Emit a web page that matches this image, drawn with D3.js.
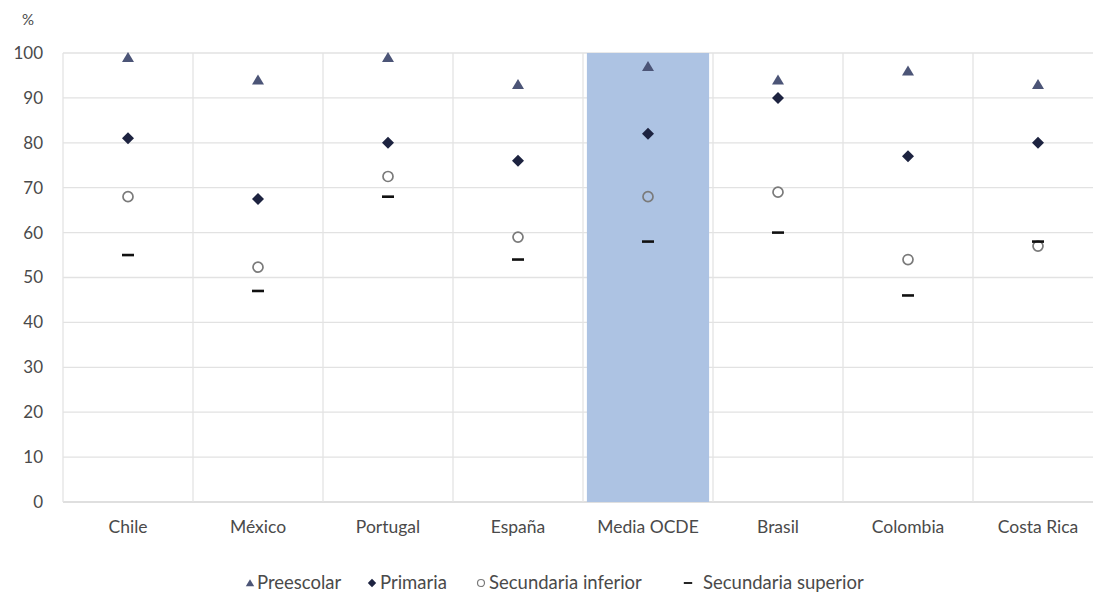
<!DOCTYPE html>
<html>
<head>
<meta charset="utf-8">
<script src="https://cdn.jsdelivr.net/npm/d3@7"></script>
<style>
  html, body { margin: 0; padding: 0; background: #fff; }
  svg { display: block; }
  text { font-family: Lato, "Open Sans", sans-serif; fill: #4a4a4a; }
</style>
</head>
<body>
<svg id="chart" width="1093" height="594"></svg>
<script>
// Categories and series (% of students)
const categories = ["Chile", "México", "Portugal", "España", "Media OCDE", "Brasil", "Colombia", "Costa Rica"];
const preescolar = [99, 94, 99, 93, 97, 94, 96, 93];
const primaria = [81, 67.5, 80, 76, 82, 90, 77, 80];
const secInferior = [68, 52.3, 72.5, 59, 68, 69, 54, 57];
const secSuperior = [55, 47, 68, 54, 58, 60, 46, 58];
const yTicks = [0, 10, 20, 30, 40, 50, 60, 70, 80, 90, 100];
const highlighted = ["Media OCDE"];
const highlightValue = [100];
const legendLabels = ["Preescolar", "Primaria", "Secundaria inferior", "Secundaria superior"];

const svg = d3.select("#chart");
const FONT = "Lato, 'Open Sans', sans-serif";

const x = d3.scaleBand().domain(categories).range([63, 1103]).paddingInner(0).paddingOuter(0);
const y = d3.scaleLinear().domain([0, 100]).range([502, 53]);

// Horizontal gridlines
svg.append("g").selectAll("line").data(yTicks).join("line")
  .attr("x1", 63).attr("x2", 1093)
  .attr("y1", d => y(d)).attr("y2", d => y(d))
  .attr("stroke", d => d === 0 ? "#d4d4d4" : "#e2e2e2").attr("stroke-width", 1.3);

// Vertical separators between categories
svg.append("g").selectAll("line").data(categories).join("line")
  .attr("x1", d => x(d)).attr("x2", d => x(d))
  .attr("y1", y(100)).attr("y2", y(0))
  .attr("stroke", "#e4e4e4").attr("stroke-width", 1.3);

// Highlight column for the OECD average
const hb = highlighted.map((c, i) => ({c, v: highlightValue[i]}));
svg.append("g").selectAll("rect").data(hb).join("rect")
  .attr("x", d => x(d.c) + x.bandwidth() * 0.03)
  .attr("width", x.bandwidth() * 0.94)
  .attr("y", d => y(d.v))
  .attr("height", d => y(0) - y(d.v))
  .attr("fill", "#adc3e3");

// Y axis labels
const yAxis = d3.axisLeft(y).tickValues(yTicks).tickSize(0).tickPadding(0);
const gy = svg.append("g").attr("transform", "translate(43,0)").call(yAxis);
gy.select(".domain").remove();
gy.selectAll("text").style("font-size", "17px").attr("fill", "#4a4a4a")
  .style("font-family", FONT);

svg.append("text").attr("x", 22).attr("y", 25).style("font-size", "15px").text("%");

// X axis labels
const xAxis = d3.axisBottom(x).tickSize(0).tickPadding(0);
const gx = svg.append("g").attr("transform", "translate(0,521)").call(xAxis);
gx.select(".domain").remove();
gx.selectAll("text").style("font-size", "17.5px").attr("fill", "#4a4a4a")
  .style("font-family", FONT);

const cx = c => x(c) + x.bandwidth() / 2;

// Marker drawers
function drawTriangle(g, px, py, s = 1) {
  const w = 6 * s, h = 10 * s;
  g.append("path")
    .attr("d", `M${px},${py - h * 0.55}L${px + w},${py + h * 0.45}L${px - w},${py + h * 0.45}Z`)
    .attr("fill", "#4c5577");
}
function drawDiamond(g, px, py, s = 1) {
  const r = 6 * s;
  g.append("path")
    .attr("d", `M${px},${py - r}L${px + r},${py}L${px},${py + r}L${px - r},${py}Z`)
    .attr("fill", "#1d2340");
}
function drawCircle(g, px, py, s = 1) {
  g.append("circle").attr("cx", px).attr("cy", py).attr("r", 5 * s)
    .attr("fill", "none").attr("stroke", "#7a7a7a").attr("stroke-width", 1.7 * s);
}
function drawDash(g, px, py, s = 1) {
  g.append("line").attr("x1", px - 6 * s).attr("x2", px + 6 * s).attr("y1", py).attr("y2", py)
    .attr("stroke", "#111").attr("stroke-width", 2.6 * s);
}

const marks = svg.append("g");
categories.forEach((c, i) => {
  drawTriangle(marks, cx(c), y(preescolar[i]));
  drawDiamond(marks, cx(c), y(primaria[i]));
  drawCircle(marks, cx(c), y(secInferior[i]));
  drawDash(marks, cx(c), y(secSuperior[i]));
});

// Legend
const legend = svg.append("g").attr("transform", "translate(0,584)");
const drawers = [drawTriangle, drawDiamond, drawCircle, drawDash];
const legendX = [250, 372, 481, 688];
const legendGap = [7, 8, 8, 15];
legendLabels.forEach((l, i) => {
  const mx = legendX[i];
  drawers[i](legend, mx, -1, 0.7);
  legend.append("text").attr("x", mx + legendGap[i]).attr("y", 5)
    .style("font-size", "18.5px").style("font-family", FONT).text(l);
});
</script>
</body>
</html>
